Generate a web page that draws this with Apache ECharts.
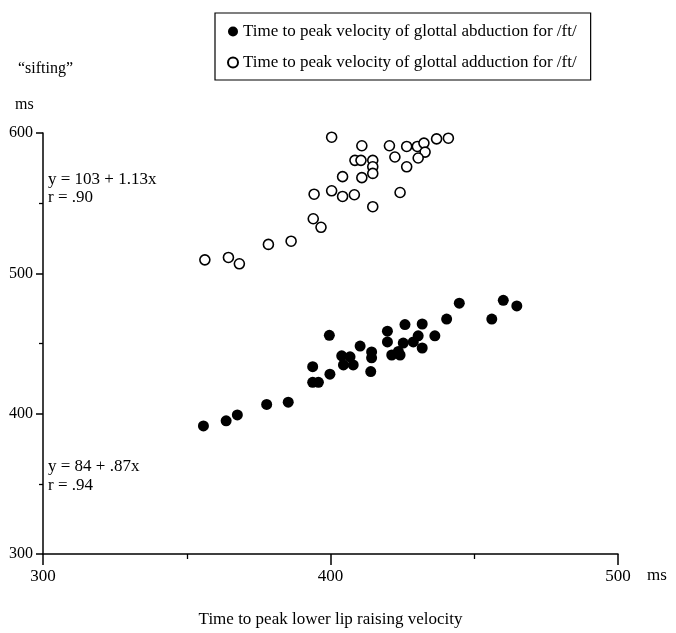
<!DOCTYPE html>
<html>
<head>
<meta charset="utf-8">
<script src="https://cdn.jsdelivr.net/npm/echarts@6/dist/echarts.min.js"></script>
<style>
html,body{margin:0;padding:0;background:#fff;}
#chart{width:676px;height:633px;}
</style>
</head>
<body>
<div id="chart"></div>
<script>
// Time to peak velocity of glottal abduction (filled)
var abductionX = [355.8,363.7,367.6,377.8,385.3,399.6,393.8,393.8,395.8,399.8,403.9,404.5,407.9,410.3,414.3,414.3,414.0,419.8,419.8,421.3,424.2,425.9,425.3,430.5,431.9,431.9,436.3,440.4,444.8,456.1,460.1,464.8,423.6,428.8,406.8];
var abductionY = [391.3,394.9,399.1,406.6,408.2,455.8,433.5,422.3,422.3,428.1,441.2,434.7,434.7,448.2,444.0,439.8,430.0,458.8,451.1,441.8,441.8,463.5,450.3,455.5,463.9,446.8,455.5,467.4,478.7,467.4,480.8,476.8,444.3,451.1,440.5];
// Time to peak velocity of glottal adduction (open)
var adductionX = [400.4,410.9,420.5,426.5,430.2,432.5,436.9,441.0,432.9,430.5,422.4,426.5,408.5,410.6,414.7,414.7,414.7,404.2,410.9,394.3,400.4,404.2,408.3,424.2,414.7,394.0,396.7,378.4,386.3,356.3,364.5,368.3];
var adductionY = [597.0,590.9,590.9,590.4,590.4,592.8,595.8,596.3,586.4,582.2,582.9,575.9,580.5,580.5,580.5,575.9,571.2,568.9,568.2,556.4,558.8,554.8,556.0,557.6,547.5,538.9,532.8,520.6,522.9,509.6,511.3,506.8];
var seriesNames = ['Time to peak velocity of glottal abduction for /ft/','Time to peak velocity of glottal adduction for /ft/'];
var xTitle = 'Time to peak lower lip raising velocity';

function zip(a,b){return a.map(function(v,i){return [v,b[i]];});}

var FONT = '"Liberation Serif", serif';
var chart = echarts.init(document.getElementById('chart'), null, {renderer:'canvas'});
chart.setOption({
  animation:false,
  backgroundColor:'#fff',
  textStyle:{fontFamily:FONT,color:'#000'},
  grid:{left:43,right:58,top:133,bottom:73,containLabel:false},
  legend:{
    left:215, top:13, orient:'vertical',
    data:seriesNames,
    borderColor:'#000', borderWidth:1.2,
    padding:[10,14,9,12], itemGap:14,
    itemWidth:10, itemHeight:10,
    textStyle:{fontFamily:FONT,fontSize:17,color:'#000'}
  },
  xAxis:{
    type:'value', min:300, max:500, interval:100,
    name:xTitle, nameLocation:'middle', nameGap:57,
    nameTextStyle:{fontFamily:FONT,fontSize:17,color:'#000'},
    axisLine:{show:true,onZero:false,lineStyle:{color:'#000',width:1.5}},
    axisTick:{show:true,length:11,lineStyle:{color:'#000',width:1.5}},
    minorTick:{show:true,splitNumber:2,length:5,lineStyle:{color:'#000',width:1.3}},
    splitLine:{show:false},
    axisLabel:{fontFamily:FONT,fontSize:17,color:'#000',margin:14}
  },
  yAxis:{
    type:'value', min:300, max:600, interval:100,
    axisLine:{show:true,onZero:false,lineStyle:{color:'#000',width:1.5}},
    axisTick:{show:true,length:7,lineStyle:{color:'#000',width:1.5}},
    minorTick:{show:true,splitNumber:2,length:4,lineStyle:{color:'#000',width:1.3}},
    splitLine:{show:false},
    axisLabel:{fontFamily:FONT,fontSize:16,color:'#000',margin:10}
  },
  series:[
    {name:seriesNames[0],type:'scatter',symbol:'circle',symbolSize:11,
     itemStyle:{color:'#000',opacity:1},data:zip(abductionX,abductionY)},
    {name:seriesNames[1],type:'scatter',symbol:'circle',symbolSize:10,
     itemStyle:{color:'#fff',borderColor:'#000',borderWidth:1.6,opacity:1},data:zip(adductionX,adductionY)}
  ],
  graphic:[
    {type:'text',left:18,top:61,style:{text:'\u201csifting\u201d',font:'16px '+FONT,fill:'#000'}},
    {type:'text',left:15,top:97,style:{text:'ms',font:'16px '+FONT,fill:'#000'}},
    {type:'text',left:647,top:567,style:{text:'ms',font:'17px '+FONT,fill:'#000'}},
    {type:'text',left:48,top:171,style:{text:'y = 103 + 1.13x',font:'17px '+FONT,fill:'#000'}},
    {type:'text',left:48,top:189,style:{text:'r = .90',font:'17px '+FONT,fill:'#000'}},
    {type:'text',left:48,top:458,style:{text:'y = 84 + .87x',font:'17px '+FONT,fill:'#000'}},
    {type:'text',left:48,top:477,style:{text:'r = .94',font:'17px '+FONT,fill:'#000'}}
  ]
});
</script>
</body>
</html>
